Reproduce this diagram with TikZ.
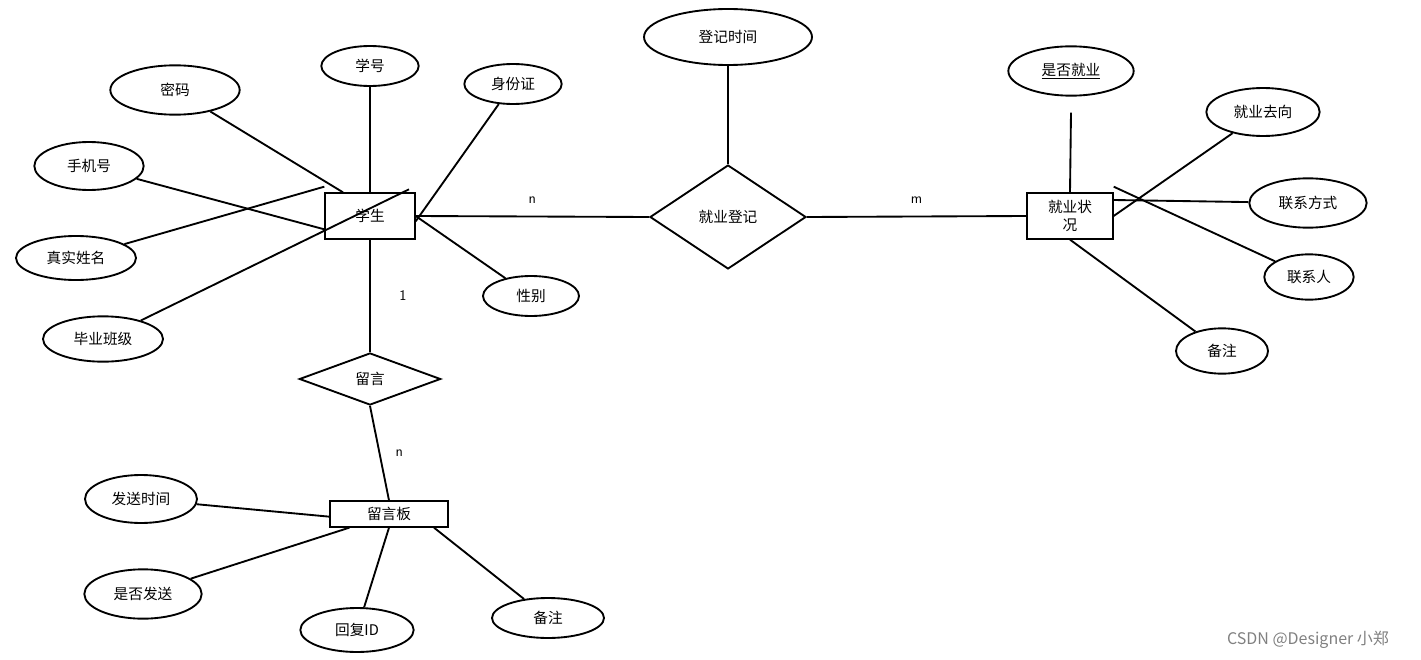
\documentclass[tikz,border=0pt]{standalone}
\usepackage{fontspec}
\newfontfamily\cjk{Noto Sans CJK SC}
\usetikzlibrary{shapes.geometric}
\begin{document}
\begin{tikzpicture}[x=0.75pt,y=-0.75pt,
  every node/.style={font=\cjk\fontsize{11}{13}\selectfont},
  ent/.style={draw,line width=1.5pt,rectangle,inner sep=0pt},
  attr/.style={draw,line width=1.4pt,ellipse,inner sep=0pt},
  rel/.style={draw,line width=1.4pt,diamond,inner sep=0pt},
  ln/.style={line width=1.4pt},
  lbl/.style={font=\fontsize{11}{13}\selectfont\sffamily}]
\useasboundingbox (0,0) rectangle (1421,660);
% entities
\node[ent,minimum width=67pt,minimum height=34pt] (s) at (370,216) {学生};
\node[ent,minimum width=64pt,minimum height=34pt,align=center] (z) at (1070,216) {就业状\\况};
\node[ent,minimum width=88pt,minimum height=19pt] (b) at (389,514) {留言板};
\node[rel,minimum width=117pt,minimum height=78pt] (d) at (728,217) {就业登记};
\node[rel,minimum width=106pt,minimum height=39pt] (l) at (370,379) {留言};
% attributes
\node[attr,minimum width=73pt,minimum height=30pt] (xh) at (370,66) {学号};
\node[attr,minimum width=97pt,minimum height=37pt] (mm) at (175,90) {密码};
\node[attr,minimum width=73pt,minimum height=30pt] (sfz) at (513,84) {身份证};
\node[attr,minimum width=82pt,minimum height=36pt] (sj) at (89,166) {手机号};
\node[attr,minimum width=90pt,minimum height=33pt] (xm) at (76,258) {真实姓名};
\node[attr,minimum width=90pt,minimum height=34pt] (bj) at (103,339) {毕业班级};
\node[attr,minimum width=72pt,minimum height=30pt] (xb) at (531,296) {性别};
\node[attr,minimum width=126pt,minimum height=42pt] (dj) at (728,37) {登记时间};
\node[attr,minimum width=94pt,minimum height=37pt] (sf) at (1071,71) {\underline{是否就业}};
\node[attr,minimum width=85pt,minimum height=36pt] (qx) at (1263,112) {就业去向};
\node[attr,minimum width=88pt,minimum height=37pt] (fs) at (1308,203) {联系方式};
\node[attr,minimum width=67pt,minimum height=34pt] (lxr) at (1309,277) {联系人};
\node[attr,minimum width=69pt,minimum height=34pt] (bz1) at (1222,351) {备注};
\node[attr,minimum width=84pt,minimum height=36pt] (fssj) at (141,499) {发送时间};
\node[attr,minimum width=88pt,minimum height=37pt] (sffs) at (143,594) {是否发送};
\node[attr,minimum width=85pt,minimum height=33pt] (hf) at (357,630) {回复ID};
\node[attr,minimum width=84pt,minimum height=30pt] (bz2) at (548,618) {备注};
% connectors
\draw[ln] (xh) -- (s.north);
\draw[ln] (mm) -- ([xshift=14]s.north west);
\draw[ln] (sfz) -- ([xshift=0,yshift=-4]s.east);
\draw[ln] (sj) -- ([yshift=-10]s.west);
\draw[ln] (xm) -- ([yshift=22]s.west);
\draw[ln] (bj) -- ([xshift=-5,yshift=20]s.east);
\draw[ln] (xb) -- (s.east);
\draw[ln] (s.east) -- node[lbl,above=6pt,draw=none] {n} (d.west);
\draw[ln] (d.east) -- node[lbl,above=6pt,draw=none] {m} (z.west);
\draw[ln] (dj) -- (d.north);
\draw[ln] (sf.south) ++(0,16) coordinate (sfa);
\draw[ln] (sfa) -- (z.north);
\draw[ln] (qx) -- (z.east);
\draw[ln] (fs) -- ([yshift=12]z.east);
\draw[ln] (lxr) -- ([yshift=22]z.east);
\draw[ln] (bz1) -- (z.south);
\draw[ln] (s.south) -- node[lbl,right=18pt,draw=none] {1} (l.north);
\draw[ln] (l.south) -- node[lbl,right=8pt,draw=none] {n} (b.north);
\draw[ln] (fssj) -- ([yshift=-2]b.west);
\draw[ln] (sffs) -- ([xshift=15]b.south west);
\draw[ln] (hf) -- (b.south);
\draw[ln] (bz2) -- ([xshift=-11]b.south east);
\node[text=gray,font=\cjk\fontsize{12}{14}\selectfont] (wm) at (1308,640) {CSDN @Designer 小郑};
\end{tikzpicture}
\end{document}
